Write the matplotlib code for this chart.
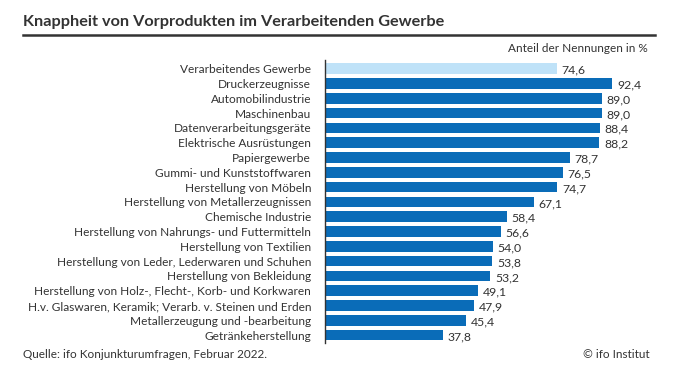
import matplotlib
matplotlib.use('Agg')
import matplotlib.pyplot as plt

plt.rcParams['font.family'] = ['Lato', 'DejaVu Sans']

# Branchen und Anteil der Nennungen (in %)
branchen = ['Verarbeitendes Gewerbe', 'Druckerzeugnisse', 'Automobilindustrie', 'Maschinenbau',
            'Datenverarbeitungsgeräte', 'Elektrische Ausrüstungen', 'Papiergewerbe',
            'Gummi- und Kunststoffwaren', 'Herstellung von Möbeln', 'Herstellung von Metallerzeugnissen',
            'Chemische Industrie', 'Herstellung von Nahrungs- und Futtermitteln', 'Herstellung von Textilien',
            'Herstellung von Leder, Lederwaren und Schuhen', 'Herstellung von Bekleidung',
            'Herstellung von Holz-, Flecht-, Korb- und Korkwaren',
            'H.v. Glaswaren, Keramik; Verarb. v. Steinen und Erden',
            'Metallerzeugung und -bearbeitung', 'Getränkeherstellung']
anteile = [74.6, 92.4, 89.0, 89.0, 88.4, 88.2, 78.7, 76.5, 74.7, 67.1,
           58.4, 56.6, 54.0, 53.8, 53.2, 49.1, 47.9, 45.4, 37.8]

dunkelblau = '#0a6cb8'
hellblau = '#bfe2f8'
textfarbe = '#333333'

fig = plt.figure(figsize=(6.76, 3.78), dpi=100)
ax = fig.add_axes([325 / 676, 1 - 343 / 378, 325 / 676, 283 / 378])

farben = [hellblau] + [dunkelblau] * (len(anteile) - 1)
pos = range(len(branchen))
ax.barh(pos, anteile, height=0.72, color=farben)

for i, v in enumerate(anteile):
    ax.text(v + 1.5, i + 0.1, f'{v:.1f}'.replace('.', ','), va='center', ha='left',
            fontsize=8.8, color=textfarbe)

ax.set_xlim(0, 104.5)
ax.set_ylim(18.53, -0.59)
ax.set_yticks(list(pos))
ax.set_yticklabels(branchen, fontsize=8.6, color=textfarbe)
ax.tick_params(axis='y', length=0, pad=10)
ax.set_xticks([])
for s in ['top', 'right', 'bottom']:
    ax.spines[s].set_visible(False)
ax.spines['left'].set_color(textfarbe)
ax.spines['left'].set_linewidth(1)

# Titel und Linie
fig.text(23 / 676, 1 - 22 / 378, 'Knappheit von Vorprodukten im Verarbeitenden Gewerbe',
         fontsize=11.7, fontweight='bold', color=textfarbe, va='center', ha='left')
fig.add_artist(plt.Line2D([23 / 676, 655 / 676], [1 - 35 / 378, 1 - 35 / 378],
                          color=textfarbe, linewidth=1.8))
fig.text(648 / 676, 1 - 48 / 378, 'Anteil der Nennungen in %', fontsize=8.5,
         color=textfarbe, va='center', ha='right')

fig.text(23 / 676, 1 - 355 / 378, 'Quelle: ifo Konjunkturumfragen, Februar 2022.',
         fontsize=8.5, color=textfarbe, va='center', ha='left')
fig.text(650 / 676, 1 - 355 / 378, '© ifo Institut', fontsize=8.5,
         color=textfarbe, va='center', ha='right')

fig.savefig('out.png', dpi=100)
